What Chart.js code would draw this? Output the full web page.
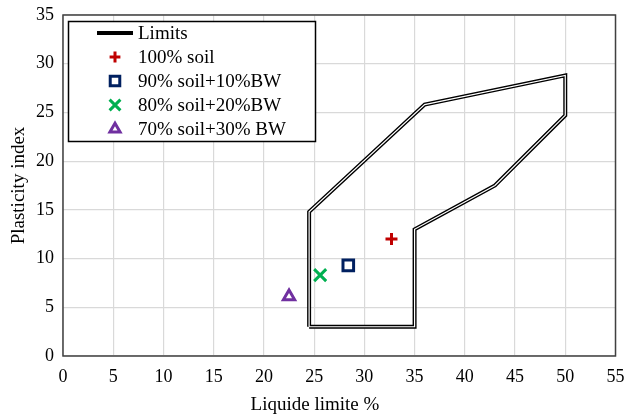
<!DOCTYPE html>
<html lang="en">
<head>
    <meta charset="UTF-8">
    <title>Plasticity chart</title>
    <script src="https://cdn.jsdelivr.net/npm/chart.js"></script>
    <style>
        html, body { margin: 0; padding: 0; background: #fff; }
        #wrap { width: 627px; height: 417px; }
    </style>
</head>
<body>
    <div id="wrap"><canvas id="plasticityChart"></canvas></div>

    <script>
        // Limits polygon (liquid limit, plasticity index)
        const limitLL = [24.5, 24.5, 36, 50, 50, 43, 35, 35, 24.5];
        const limitPI = [3, 14.8, 25.8, 28.8, 24.7, 17.5, 13, 3, 3];

        // Mixtures
        const mixNames = ["100% soil", "90% soil+10%BW", "80% soil+20%BW", "70% soil+30% BW"];
        const mixLL = [32.7, 28.4, 25.6, 22.5];
        const mixPI = [12, 9.3, 8.3, 6.1];
        const mixColors = ["#c00000", "#002060", "#00b050", "#7030a0"];
        const mixStyles = ["cross", "rect", "crossRot", "triangle"];
        const mixRadius = [6, 7.5, 8.5, 6.5];

        const xTicks = [0, 5, 10, 15, 20, 25, 30, 35, 40, 45, 50, 55];
        const yTicks = [0, 5, 10, 15, 20, 25, 30, 35];

        const serif = "'Liberation Serif', 'Times New Roman', serif";

        const toPoints = (xs, ys) => xs.map((x, i) => ({ x: x, y: ys[i] }));

        // markers first so they end up on top of the limits line
        let datasets = mixNames.map((name, i) => ({
            label: name,
            data: [{ x: mixLL[i], y: mixPI[i] }],
            pointStyle: mixStyles[i],
            pointRadius: mixRadius[i],
            pointBorderWidth: 3,
            borderColor: mixColors[i],
            backgroundColor: "#ffffff",
            showLine: false
        }));
        // white core gives the limits line its double look
        datasets.push({
            label: "",
            data: toPoints(limitLL, limitPI),
            showLine: true,
            borderColor: "#ffffff",
            borderWidth: 1.2,
            pointRadius: 0,
            borderJoinStyle: "miter"
        });
        datasets.push({
            label: "Limits",
            data: toPoints(limitLL, limitPI),
            showLine: true,
            borderColor: "#000000",
            borderWidth: 4,
            pointRadius: 0,
            borderJoinStyle: "miter"
        });

        // frame around the plot area
        const frame = {
            id: "frame",
            beforeDatasetsDraw(chart) {
                const a = chart.chartArea, c = chart.ctx;
                c.save();
                c.strokeStyle = "#404040";
                c.lineWidth = 1.5;
                c.strokeRect(a.left, a.top, a.right - a.left, a.bottom - a.top);
                c.restore();
            }
        };

        // x axis title sits a little left of the plot centre
        const xTitle = {
            id: "xTitle",
            afterDraw(chart) {
                const c = chart.ctx;
                c.save();
                c.font = "19px " + serif;
                c.fillStyle = "#000000";
                c.textAlign = "center";
                c.textBaseline = "middle";
                c.fillText("Liquide limite %", 315, 405);
                c.restore();
            }
        };

        // boxed legend in the upper left corner
        const boxLegend = {
            id: "boxLegend",
            afterDatasetsDraw(chart) {
                const c = chart.ctx;
                const items = chart.data.datasets.filter(d => d.label);
                const order = ["Limits"].concat(mixNames);
                c.save();
                c.fillStyle = "#ffffff";
                c.fillRect(68.5, 21.5, 247, 120);
                c.strokeStyle = "#000000";
                c.lineWidth = 1.5;
                c.strokeRect(68.5, 21.5, 247, 120);
                c.font = "19px " + serif;
                c.textBaseline = "middle";
                order.forEach((name, row) => {
                    const d = items.find(it => it.label === name);
                    const y = 33 + row * 24;
                    if (name === "Limits") {
                        c.strokeStyle = "#000000";
                        c.lineWidth = 4;
                        c.beginPath();
                        c.moveTo(97, y);
                        c.lineTo(133, y);
                        c.stroke();
                    } else {
                        c.strokeStyle = d.borderColor;
                        c.fillStyle = "#ffffff";
                        c.lineWidth = 3;
                        Chart.helpers.drawPoint(c, {
                            pointStyle: d.pointStyle,
                            radius: d.pointRadius * 0.9,
                            rotation: 0,
                            borderWidth: 3
                        }, 115, y);
                    }
                    c.fillStyle = "#000000";
                    c.fillText(name, 138, y + 1);
                });
                c.restore();
            }
        };

        const ctx = document.getElementById("plasticityChart").getContext("2d");
        new Chart(ctx, {
            type: "scatter",
            data: { datasets: datasets },
            plugins: [frame, boxLegend, xTitle],
            options: {
                responsive: true,
                maintainAspectRatio: false,
                animation: false,
                layout: { padding: { top: 15, right: 8, bottom: 0, left: 0 } },
                plugins: {
                    legend: { display: false },
                    tooltip: { enabled: false }
                },
                scales: {
                    x: {
                        type: "linear",
                        min: 0,
                        max: 55,
                        afterBuildTicks: s => { s.ticks = xTicks.map(v => ({ value: v })); },
                        afterFit: s => {
                            s.height = 61;
                            s.paddingLeft = 0;
                            s.paddingRight = 0;
                        },
                        grid: { color: "#d9d9d9", lineWidth: 1.2, drawTicks: false },
                        border: { display: false },
                        ticks: {
                            color: "#000000",
                            font: { family: serif, size: 18 },
                            padding: 10,
                            maxRotation: 0
                        }
                    },
                    y: {
                        type: "linear",
                        min: 0,
                        max: 35,
                        afterBuildTicks: s => { s.ticks = yTicks.map(v => ({ value: v })); },
                        afterFit: s => {
                            s.width = 63;
                            s.paddingTop = 0;
                            s.paddingBottom = 0;
                        },
                        grid: { color: "#d9d9d9", lineWidth: 1.2, drawTicks: false },
                        border: { display: false },
                        ticks: {
                            color: "#000000",
                            font: { family: serif, size: 18 },
                            padding: 9
                        },
                        title: {
                            display: true,
                            text: "Plasticity index",
                            color: "#000000",
                            font: { family: serif, size: 19 },
                            padding: { top: 8, bottom: 4 }
                        }
                    }
                }
            }
        });
    </script>
</body>
</html>
